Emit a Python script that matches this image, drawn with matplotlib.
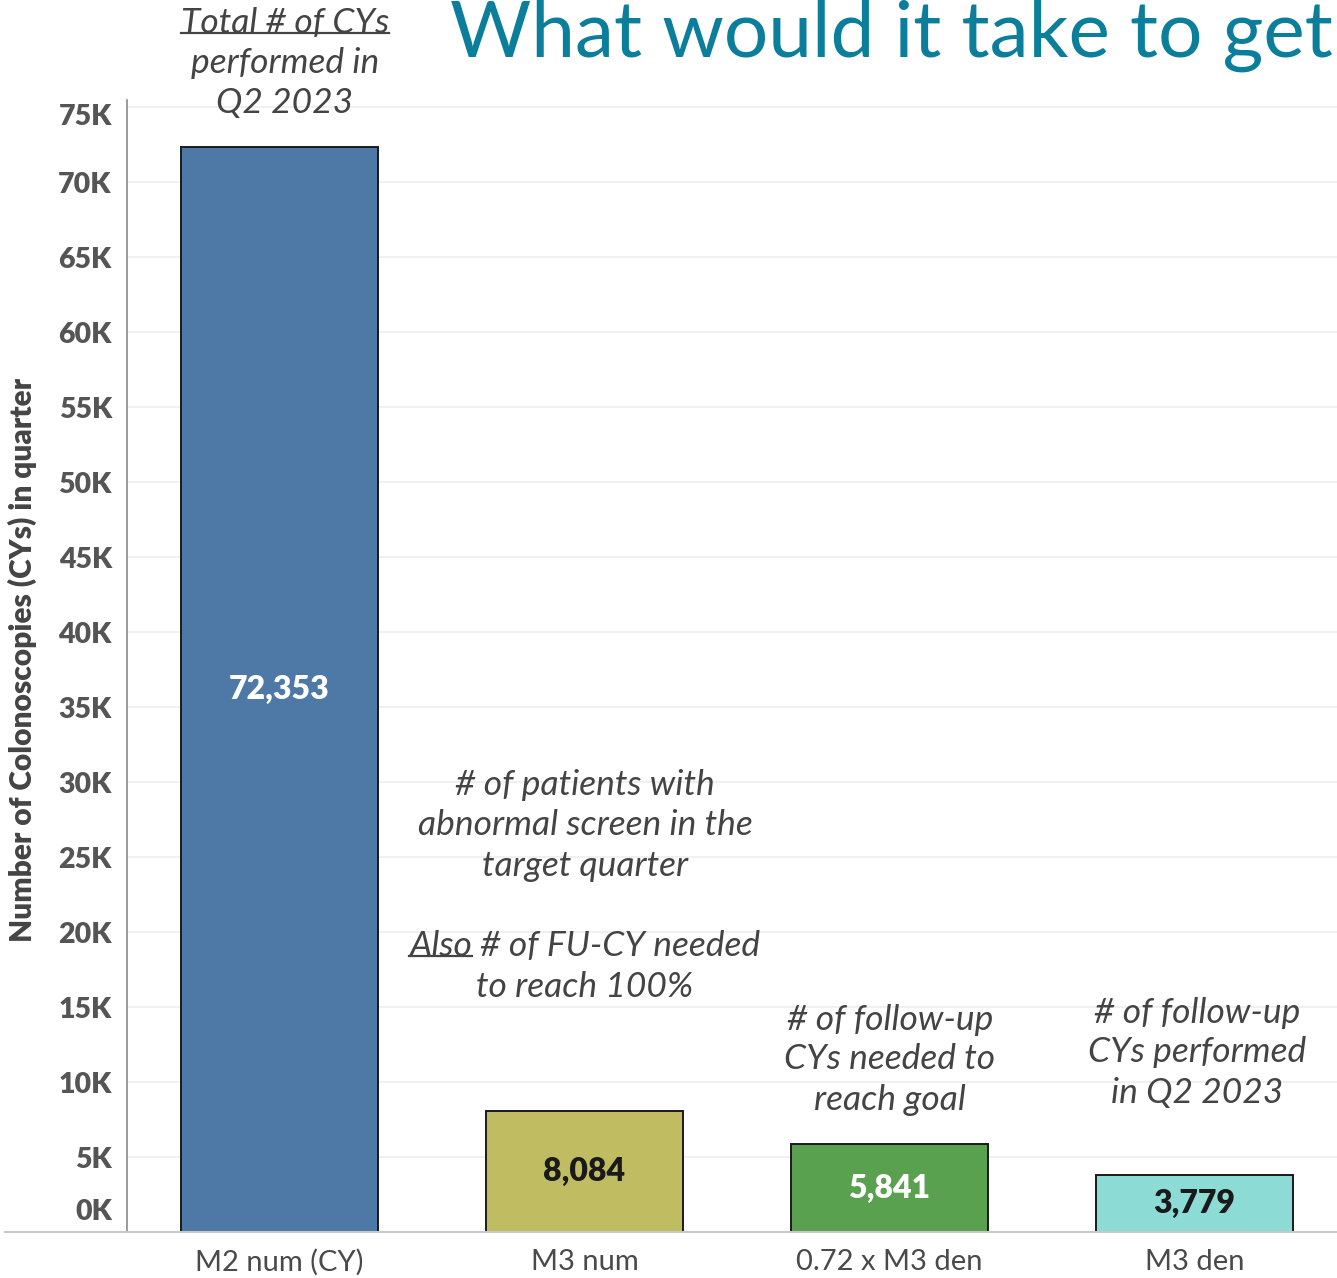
import matplotlib.pyplot as plt
import matplotlib.transforms as mtransforms
from matplotlib.lines import Line2D

categories = ["M2 num (CY)", "M3 num", "0.72 x M3 den", "M3 den"]
counts = [72353, 8084, 5841, 3779]
bar_colors = ["#4e79a7", "#bfbc62", "#59a14f", "#8cdcd5"]
label_colors = ["white", "#1a1a1a", "white", "#1a1a1a"]
ytick_values = list(range(0, 80000, 5000))
ytick_labels = [f"{v // 1000}K" for v in ytick_values]

W, H = 1337, 1278
plt.rcParams["font.family"] = ["Lato", "DejaVu Sans"]

fig = plt.figure(figsize=(W / 100, H / 100), dpi=100)
ax = fig.add_axes([127 / W, 46 / H, 1 - 127 / W, (1232 - 100) / H])


def fx(px):
    return px / W


def fy(py):
    return 1 - py / H


bars = ax.bar(range(len(counts)), counts, width=0.646, color=bar_colors,
              edgecolor="#1a1a1a", linewidth=1.4, zorder=3)
for b, val, c in zip(bars, counts, label_colors):
    ax.text(b.get_x() + b.get_width() / 2, val / 2, f"{val:,}", ha="center",
            va="center", color=c, fontsize=23, fontweight="heavy", zorder=4)

ax.set_xlim(-0.5, 3.467)
ax.set_ylim(0, 75470)
ax.set_yticks(ytick_values)
ax.set_yticklabels(ytick_labels, fontsize=20.5, fontweight="heavy", color="#555555")
ax.set_xticks(range(len(categories)))
ax.set_xticklabels(categories, fontsize=21, color="#4a4a4a")
ax.tick_params(axis="y", length=0, pad=11)
ax.tick_params(axis="x", length=0, pad=12)

# keep the end labels inside the axis span
ylabels = ax.get_yticklabels()
ylabels[0].set_transform(ylabels[0].get_transform() +
                         mtransforms.ScaledTranslation(0, 22 / 100, fig.dpi_scale_trans))
ylabels[-1].set_transform(ylabels[-1].get_transform() +
                          mtransforms.ScaledTranslation(0, -7 / 100, fig.dpi_scale_trans))

ax.grid(axis="y", color="#eeeeee", linewidth=1.2, zorder=0)
for s in ["top", "right", "bottom"]:
    ax.spines[s].set_visible(False)
ax.spines["left"].set_color("#8a8a8a")
ax.spines["left"].set_linewidth(1.2)

ax.set_ylabel("Number of Colonoscopies (CYs) in quarter", fontsize=21.5,
              fontweight="heavy", color="#444444")
ax.yaxis.set_label_coords(fx(37), fy(660), transform=fig.transFigure)

# baseline that runs the full width
fig.add_artist(Line2D([fx(5), 1.0], [fy(1232), fy(1232)], color="#c8c8c8",
                      linewidth=1.5, transform=fig.transFigure))

fig.text(fx(450), fy(36), "What would it take to get", fontsize=56.5,
         color="#0a7e9a", ha="left", va="center")

note_style = dict(fontsize=25.5, style="italic", color="#444444",
                  ha="center", va="center")
notes = [
    (285, 23, "Total # of CYs"),
    (285, 63, "performed in"),
    (285, 103, "Q2 2023"),
    (585, 785, "# of patients with"),
    (585, 825, "abnormal screen in the"),
    (585, 866, "target quarter"),
    (585, 946, "Also # of FU-CY needed"),
    (585, 987, "to reach 100%"),
    (890, 1020, "# of follow-up"),
    (890, 1059, "CYs needed to"),
    (890, 1100, "reach goal"),
    (1197, 1013, "# of follow-up"),
    (1197, 1052, "CYs performed"),
    (1197, 1093, "in Q2 2023"),
]
note_texts = {}
for x, y, s in notes:
    note_texts[s] = fig.text(fx(x), fy(y), s, **note_style)

renderer = fig.canvas.get_renderer()


def underline(t, part=None):
    bb = t.get_window_extent(renderer)
    x0, x1 = bb.x0, bb.x1
    if part is not None:
        probe = fig.text(0, 0, part, **note_style)
        x1 = x0 + probe.get_window_extent(renderer).width
        probe.remove()
    yline = bb.y0 + 0.18 * bb.height
    fig.add_artist(Line2D([x0 / W, x1 / W], [yline / H, yline / H],
                          color="#444444", linewidth=1.6,
                          transform=fig.transFigure))


underline(note_texts["Total # of CYs"])
underline(note_texts["Also # of FU-CY needed"], "Also")

fig.savefig("out.png", dpi=100)
